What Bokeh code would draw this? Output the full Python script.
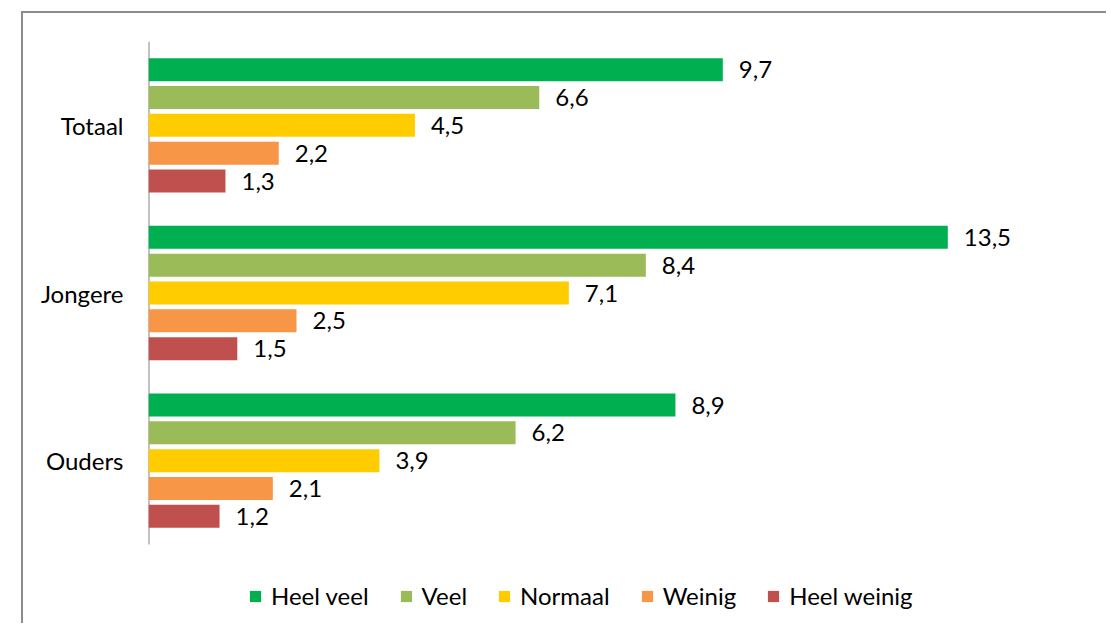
from bokeh.plotting import figure
from bokeh.models import ColumnDataSource, FixedTicker, Range1d, Legend, LegendItem
from bokeh.core.properties import value
from bokeh.embed import file_html
from bokeh.resources import INLINE

groups = ["Totaal", "Jongere", "Ouders"]
series = ["Heel veel", "Veel", "Normaal", "Weinig", "Heel weinig"]
heel_veel = [9.7, 13.5, 8.9]
veel = [6.6, 8.4, 6.2]
normaal = [4.5, 7.1, 3.9]
weinig = [2.2, 2.5, 2.1]
heel_weinig = [1.3, 1.5, 1.2]
colors = ["#00B050", "#9BBB59", "#FFCC00", "#F79646", "#C0504D"]
values = [heel_veel, veel, normaal, weinig, heel_weinig]

FONT = "Lato"
FS = "24px"

n = len(groups)
p = figure(width=1085, height=612, output_backend="svg", toolbar_location=None,
           x_range=Range1d(0, 16.13), y_range=Range1d(-0.471, n),
           min_border_left=125, min_border_right=5, min_border_top=28, min_border_bottom=2)
p.margin = (11, 0, 0, 21)
p.styles = {"border-left": "2px solid #8c8c8c", "border-top": "2px solid #8c8c8c"}
p.outline_line_color = None
p.grid.visible = False
p.xaxis.visible = False
p.background_fill_color = "white"
p.border_fill_color = "white"

centers = [n - 0.5 - i for i in range(n)]
step = 0.166
bar_h = 0.137

# category axis line (spans only the category area)
p.segment(x0=[0], y0=[0], x1=[0], y1=[n], line_color="#868686", line_width=2)

items = []
for k, (name, vals, col) in enumerate(zip(series, values, colors)):
    off = (2 - k) * step
    ys = [c + off for c in centers]
    src = ColumnDataSource(dict(y=ys, v=vals,
                                lab=[f"{v:.1f}".replace(".", ",") for v in vals]))
    r = p.hbar(y="y", right="v", left=0, height=bar_h, source=src,
               fill_color=col, line_color=None)
    p.text(x="v", y="y", text="lab", source=src, x_offset=16,
           text_baseline="middle", text_align="left",
           text_font=value(FONT), text_font_size=FS, text_color="#000000")
    items.append(LegendItem(label=name, renderers=[r]))

yax = p.yaxis[0]
yax.ticker = FixedTicker(ticks=centers)
yax.major_label_overrides = {c: g for c, g in zip(centers, groups)}
yax.major_tick_line_color = None
yax.minor_tick_line_color = None
yax.axis_line_color = None
yax.major_label_standoff = 19
yax.major_label_text_font = FONT
yax.major_label_text_font_size = FS
yax.major_label_text_color = "#000000"

legend = Legend(items=items, orientation="horizontal", location=(100, 13),
                padding=0, margin=0, spacing=30, label_standoff=9,
                glyph_width=14, glyph_height=14,
                label_text_font=FONT, label_text_font_size=FS,
                label_text_color="#000000", border_line_color=None,
                background_fill_alpha=0)
p.add_layout(legend, "center")

open("out.html", "w").write(file_html(p, INLINE))
